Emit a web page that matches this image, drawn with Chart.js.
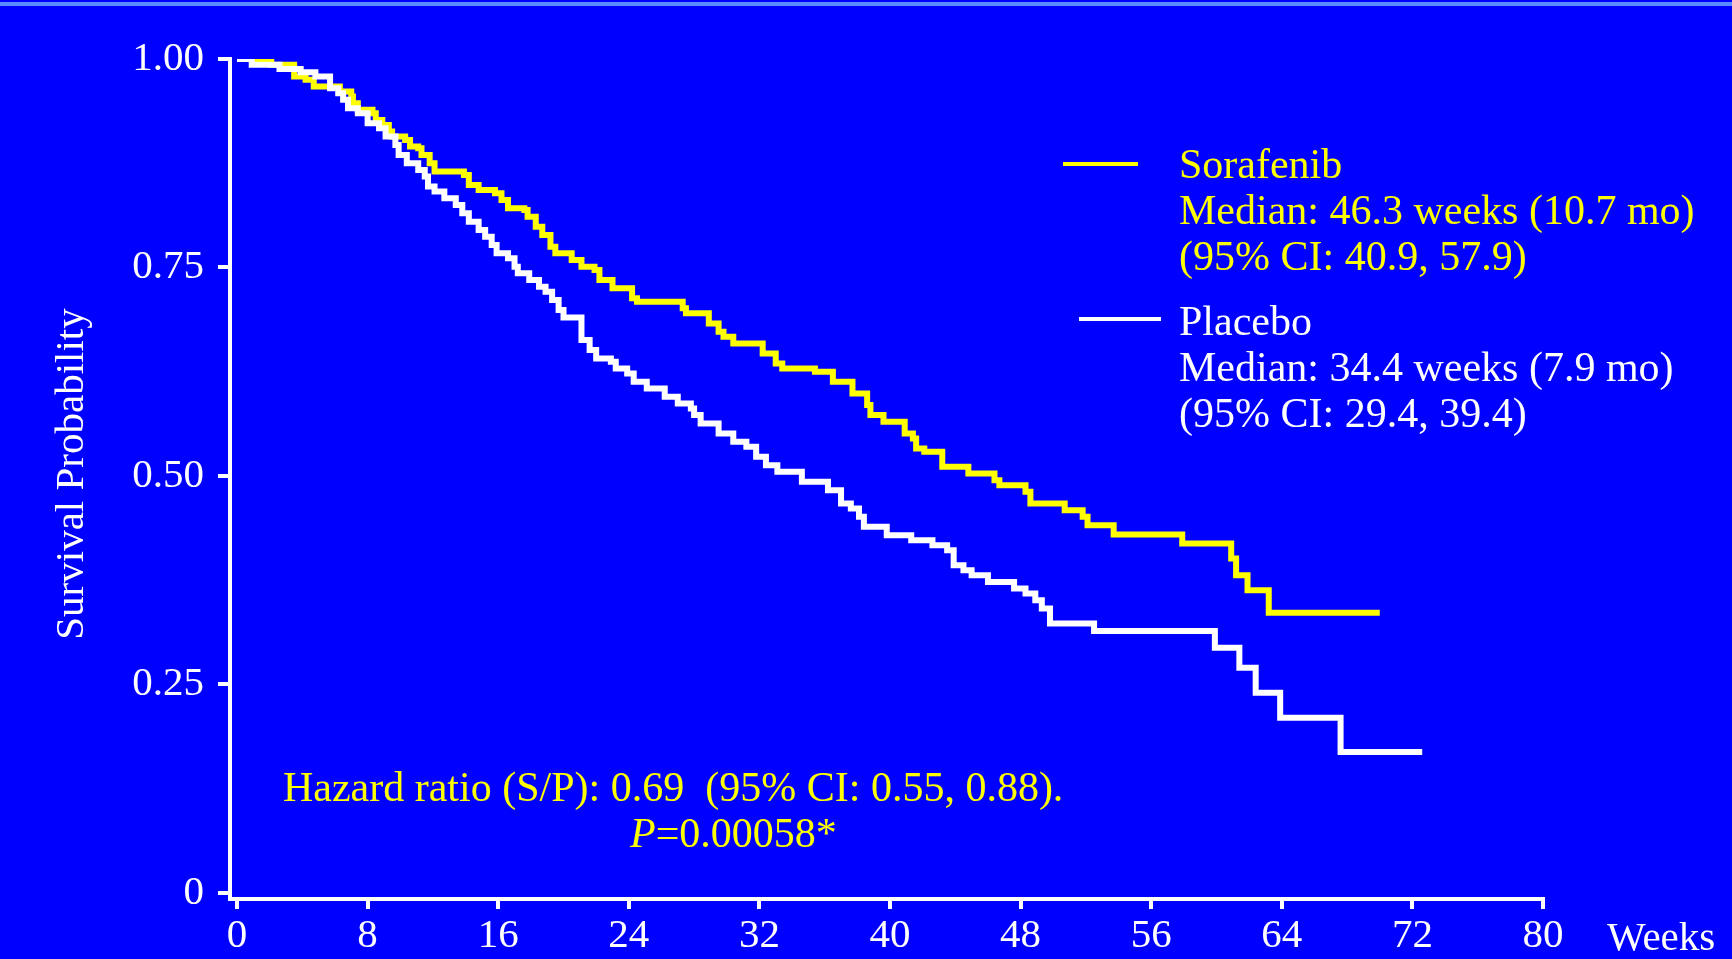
<!DOCTYPE html>
<html>
<head>
<meta charset="utf-8">
<title>Overall survival</title>
<script src="https://cdn.jsdelivr.net/npm/chart.js@4.4.0/dist/chart.umd.min.js"></script>
<style>
    html, body { margin: 0; padding: 0; background: #0000ff; overflow: hidden; }
    canvas { display: block; }
</style>
</head>
<body>
<canvas id="km_chart" width="1732" height="959"></canvas>
<script>
// axis ticks
const week_ticks = [0, 8, 16, 24, 32, 40, 48, 56, 64, 72, 80];
const prob_ticks = [0, 0.25, 0.5, 0.75, 1];
const prob_tick_labels = ['0', '0.25', '0.50', '0.75', '1.00'];

// Kaplan-Meier steps: at each week the survival drops to the paired value
const sorafenib_weeks = [0, 2.1, 3.5, 4.2, 4.7, 6.3, 7.0, 7.1, 7.4, 8.3, 8.5, 8.9, 9.3, 9.5,
    10.3, 10.6, 11.1, 11.3, 11.8, 12.1, 13.9, 14.2, 14.8, 15.8, 16.2, 16.6, 17.6, 17.8,
    18.3, 18.7, 19.2, 19.5, 20.5, 21.1, 21.9, 22.2, 23.0, 24.2, 24.5, 27.3, 27.5, 28.9,
    29.5, 29.8, 30.4, 32.2, 33.0, 33.4, 35.4, 36.5, 37.7, 38.6, 38.8, 39.6, 40.9, 41.4,
    41.6, 42.1, 43.2, 44.8, 46.4, 46.7, 48.3, 48.6, 50.7, 51.8, 52.1, 53.7, 57.9, 60.9,
    61.2, 61.9, 63.2, 70.0];
const sorafenib_surv = [1.000, 0.993, 0.979, 0.975, 0.967, 0.961, 0.955, 0.947, 0.939, 0.935,
    0.927, 0.921, 0.913, 0.907, 0.903, 0.895, 0.893, 0.885, 0.875, 0.865, 0.861, 0.849,
    0.843, 0.839, 0.831, 0.821, 0.819, 0.811, 0.799, 0.789, 0.775, 0.767, 0.759, 0.751,
    0.747, 0.735, 0.725, 0.713, 0.709, 0.701, 0.695, 0.683, 0.673, 0.667, 0.659, 0.647,
    0.635, 0.629, 0.625, 0.613, 0.599, 0.585, 0.573, 0.565, 0.551, 0.545, 0.533, 0.529,
    0.511, 0.503, 0.495, 0.489, 0.481, 0.467, 0.459, 0.451, 0.441, 0.430, 0.419, 0.401,
    0.381, 0.363, 0.336, 0.336];

const placebo_weeks = [0, 0.9, 2.6, 3.9, 4.8, 5.7, 6.2, 6.5, 6.8, 7.4, 8.0, 8.7, 9.1, 9.7, 9.9,
    10.4, 11.1, 11.5, 11.7, 12.1, 12.7, 13.4, 13.8, 14.2, 14.8, 15.2, 15.6, 15.9, 16.6,
    17.0, 17.2, 17.9, 18.5, 18.9, 19.3, 19.7, 20.0, 21.1, 21.6, 22.0, 22.9, 23.2, 23.9,
    24.3, 25.1, 26.2, 27.0, 27.8, 28.0, 28.4, 29.5, 30.4, 31.2, 31.8, 32.4, 33.1, 34.6,
    36.2, 37.0, 37.6, 38.1, 38.4, 39.8, 41.3, 42.6, 43.5, 43.9, 44.5, 45.0, 46.0, 47.6,
    48.3, 48.9, 49.3, 49.8, 52.5, 59.9, 61.4, 62.4, 63.9, 67.6, 72.6];
const placebo_surv = [1.000, 0.993, 0.988, 0.984, 0.979, 0.965, 0.959, 0.951, 0.941, 0.935,
    0.923, 0.917, 0.907, 0.897, 0.885, 0.875, 0.867, 0.859, 0.847, 0.841, 0.833, 0.825,
    0.815, 0.805, 0.795, 0.787, 0.777, 0.767, 0.761, 0.751, 0.743, 0.735, 0.727, 0.721,
    0.711, 0.699, 0.690, 0.663, 0.651, 0.641, 0.637, 0.629, 0.623, 0.613, 0.605, 0.595,
    0.587, 0.581, 0.573, 0.563, 0.551, 0.541, 0.535, 0.523, 0.513, 0.505, 0.493, 0.483,
    0.467, 0.461, 0.451, 0.439, 0.429, 0.423, 0.417, 0.411, 0.393, 0.387, 0.381, 0.373,
    0.365, 0.359, 0.351, 0.341, 0.323, 0.314, 0.294, 0.270, 0.240, 0.210, 0.169, 0.169];

const sorafenib_legend = ['Sorafenib', 'Median: 46.3 weeks (10.7 mo)', '(95% CI: 40.9, 57.9)'];
const placebo_legend = ['Placebo', 'Median: 34.4 weeks (7.9 mo)', '(95% CI: 29.4, 39.4)'];
const hazard_text = 'Hazard ratio (S/P): 0.69  (95% CI: 0.55, 0.88).';
const p_value_text = '=0.00058*';

const BLUE = '#0000ff';
const YELLOW = '#ffff00';
const WHITE = '#ffffff';
const SERIF = '"Liberation Serif", "Times New Roman", serif';

function to_points(weeks, surv) {
    return weeks.map((w, i) => ({x: w, y: surv[i]}));
}

const background_plugin = {
    id: 'slide_background',
    beforeDraw: (chart) => {
        const ctx = chart.ctx;
        ctx.save();
        ctx.fillStyle = BLUE;
        ctx.fillRect(0, 0, chart.width, chart.height);
        ctx.fillStyle = '#5a8cff';
        ctx.fillRect(0, 2, chart.width, 4);
        ctx.restore();
    }
};

const annotation_plugin = {
    id: 'slide_text',
    afterDraw: (chart) => {
        const ctx = chart.ctx;
        ctx.save();
        ctx.textBaseline = 'alphabetic';
        ctx.textAlign = 'left';

        // legend block
        ctx.lineWidth = 4;
        ctx.strokeStyle = YELLOW;
        ctx.beginPath();
        ctx.moveTo(1063, 164);
        ctx.lineTo(1138, 164);
        ctx.stroke();
        ctx.strokeStyle = WHITE;
        ctx.beginPath();
        ctx.moveTo(1079, 319);
        ctx.lineTo(1161, 319);
        ctx.stroke();

        ctx.font = '42px ' + SERIF;
        ctx.fillStyle = YELLOW;
        sorafenib_legend.forEach((t, i) => ctx.fillText(t, 1179, 178 + i * 46));
        ctx.fillStyle = WHITE;
        placebo_legend.forEach((t, i) => ctx.fillText(t, 1179, 335 + i * 46));

        // hazard ratio note
        ctx.fillStyle = YELLOW;
        ctx.fillText(hazard_text, 283, 801);
        ctx.font = 'italic 42px ' + SERIF;
        ctx.fillText('P', 630, 847);
        const p_width = ctx.measureText('P').width;
        ctx.font = '42px ' + SERIF;
        ctx.fillText(p_value_text, 630 + p_width, 847);

        // axis titles
        ctx.fillStyle = WHITE;
        ctx.font = '41px ' + SERIF;
        ctx.fillText('Weeks', 1607, 950);
        ctx.translate(83, 474);
        ctx.rotate(-Math.PI / 2);
        ctx.textAlign = 'center';
        ctx.fillText('Survival Probability', 0, 0);
        ctx.restore();
    }
};

const config = {
    type: 'line',
    data: {
        datasets: [{
            label: 'Placebo',
            data: to_points(placebo_weeks, placebo_surv),
            borderColor: WHITE,
            borderWidth: 6,
            stepped: true,
            pointRadius: 0,
            fill: false,
            order: 1
        }, {
            label: 'Sorafenib',
            data: to_points(sorafenib_weeks, sorafenib_surv),
            borderColor: YELLOW,
            borderWidth: 6,
            stepped: true,
            pointRadius: 0,
            fill: false,
            order: 2
        }]
    },
    options: {
        responsive: false,
        animation: false,
        events: [],
        layout: {
            padding: {left: 0, top: 59, right: 189, bottom: 0}
        },
        plugins: {
            legend: {display: false},
            tooltip: {enabled: false},
            title: {display: false}
        },
        scales: {
            x: {
                type: 'linear',
                min: -0.43,
                max: 80,
                afterBuildTicks: (scale) => {
                    scale.ticks = week_ticks.map(v => ({value: v}));
                },
                afterFit: (scale) => {
                    scale.height = 60;
                },
                grid: {
                    display: true, drawOnChartArea: false, drawTicks: true,
                    tickLength: 10, color: WHITE, lineWidth: 4
                },
                border: {display: true, color: WHITE, width: 4},
                ticks: {
                    color: WHITE, padding: 3, maxRotation: 0, autoSkip: false,
                    font: {family: SERIF, size: 41}
                }
            },
            y: {
                type: 'linear',
                min: -0.0072,
                max: 1,
                afterBuildTicks: (scale) => {
                    scale.ticks = prob_ticks.map(v => ({value: v}));
                },
                afterFit: (scale) => {
                    scale.width = 230;
                },
                grid: {
                    display: true, drawOnChartArea: false, drawTicks: true,
                    tickLength: 12, color: WHITE, lineWidth: 4
                },
                border: {display: true, color: WHITE, width: 4},
                ticks: {
                    color: WHITE, padding: 14, autoSkip: false,
                    font: {family: SERIF, size: 41},
                    callback: (value) => prob_tick_labels[prob_ticks.indexOf(value)]
                }
            }
        }
    },
    plugins: [background_plugin, annotation_plugin]
};

new Chart(document.getElementById('km_chart').getContext('2d'), config);
</script>
</body>
</html>
